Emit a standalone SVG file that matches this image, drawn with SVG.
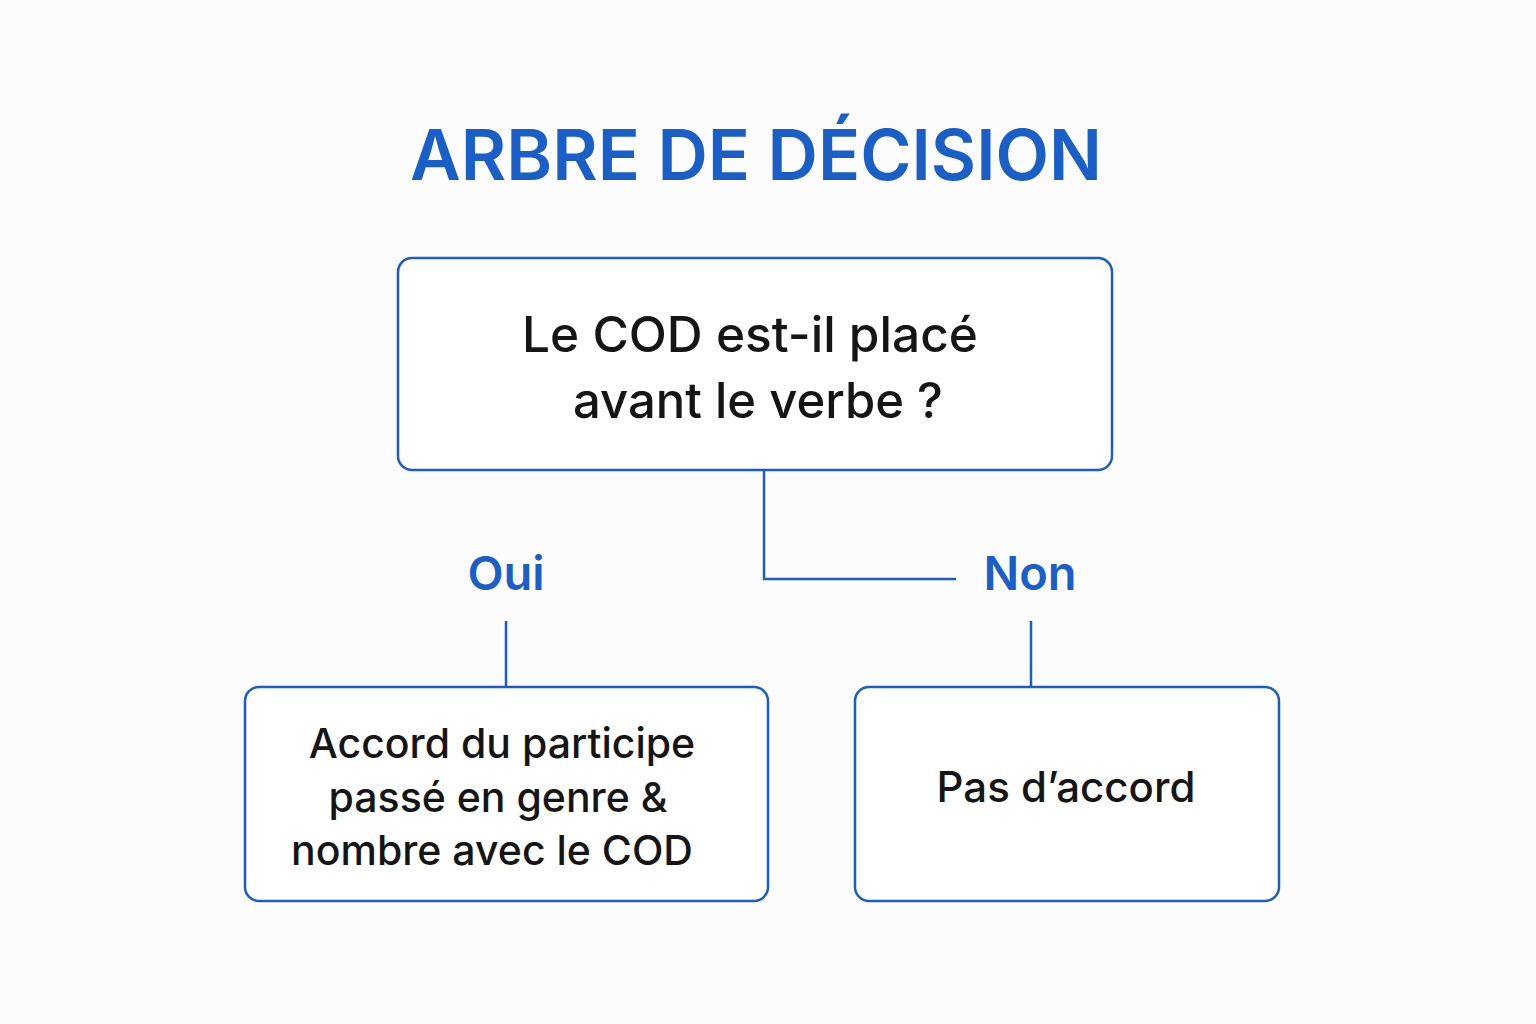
<svg xmlns="http://www.w3.org/2000/svg" width="1536" height="1024" viewBox="0 0 1536 1024">
<style>
.box{fill:#fff;stroke:#1a5cc8;stroke-width:2.5}
.ln{stroke:#1a5cc8;stroke-width:2.5;fill:none}
.t{font-family:Inter,"Noto Sans",sans-serif;fill:#151515;text-anchor:middle;font-weight:500}
.b{font-family:Inter,"Noto Sans",sans-serif;fill:#1a5fc8;font-weight:600;text-anchor:middle}
</style>
<rect width="1536" height="1024" fill="#fcfcfc"/>
<text class="b" x="756" y="180" font-size="70" font-weight="700" textLength="692" lengthAdjust="spacingAndGlyphs">ARBRE DE DÉCISION</text>
<g id="connectors">
<polyline class="ln" points="764,470 764,579 956,579"/>
<line class="ln" x1="506" y1="621" x2="506" y2="686"/>
<line class="ln" x1="1031" y1="621" x2="1031" y2="686"/>
</g>
<g id="oui"><text class="b" x="506" y="590" font-size="47">Oui</text></g>
<g id="non"><text class="b" x="1030" y="590" font-size="47">Non</text></g>
<g id="question">
<rect class="box" x="398" y="258" width="714" height="212" rx="14"/>
<text class="t" x="750" y="352" font-size="49" textLength="456" lengthAdjust="spacingAndGlyphs">Le COD est-il placé</text>
<text class="t" x="758" y="418" font-size="49">avant le verbe ?</text>
</g>
<g id="accord">
<rect class="box" x="245" y="687" width="523" height="214" rx="14"/>
<text class="t" x="502" y="758" font-size="41">Accord du participe</text>
<text class="t" x="498" y="812" font-size="41">passé en genre &amp;</text>
<text class="t" x="492" y="865" font-size="41">nombre avec le COD</text>
</g>
<g id="pasaccord">
<rect class="box" x="855" y="687" width="424" height="214" rx="14"/>
<text class="t" x="1066" y="802" font-size="42">Pas d’accord</text>
</g>
</svg>
